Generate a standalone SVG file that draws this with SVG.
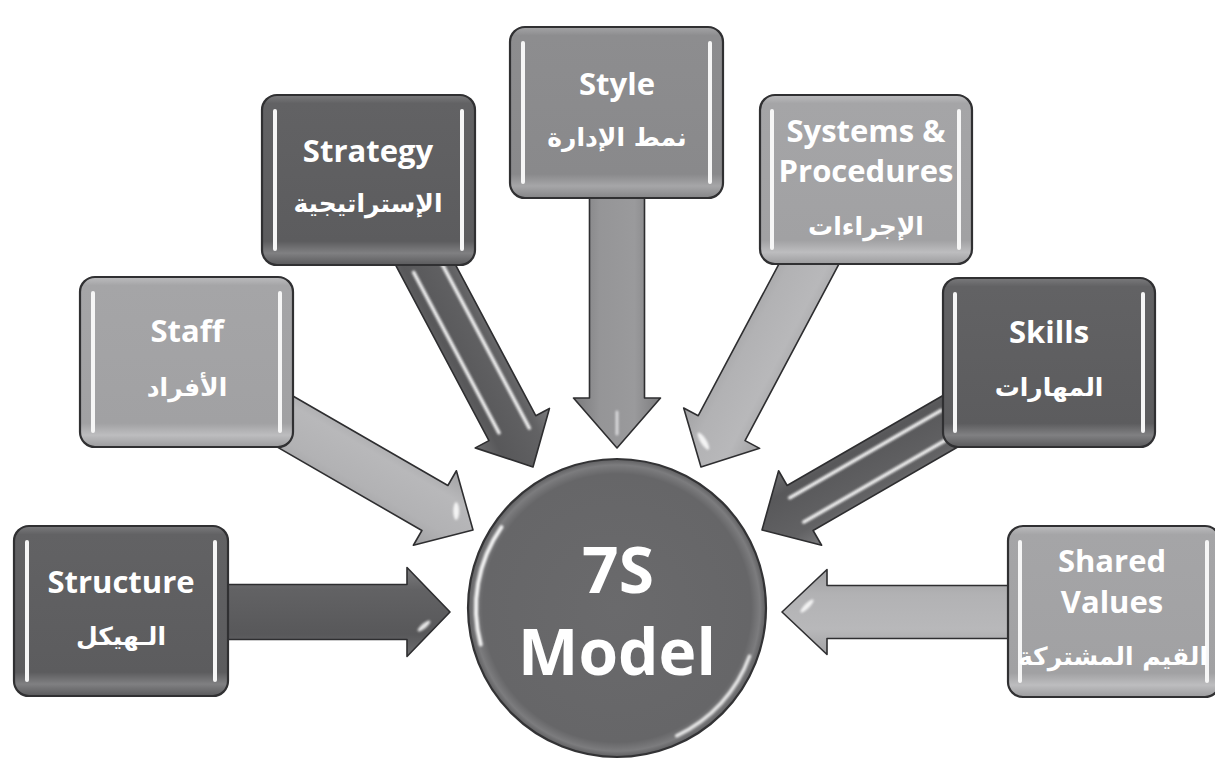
<svg xmlns="http://www.w3.org/2000/svg" width="1215" height="765" viewBox="0 0 1215 765">
  <defs>
    <style>
      .box { stroke: #303032; stroke-width: 2.2; }
      .dark { fill: url(#gDark); }
      .mid { fill: url(#gMid); }
      .light { fill: url(#gLight); }
      .bar { stroke: #f6f6f6; stroke-width: 4; stroke-linecap: round; }
      .lbl { font-family: "Open Sans", "DejaVu Sans", sans-serif; font-weight: bold; fill: #ffffff; text-anchor: middle; }
      .en { font-size: 31px; }
      .ar { font-family: "DejaVu Sans", "Noto Sans", sans-serif; font-weight: bold; font-size: 25px; fill: #ffffff; text-anchor: middle; }
      .arrow { stroke: #2e2e30; stroke-width: 1.6; stroke-linejoin: round; }
      .aDark { fill: url(#gArrowDark); }
      .aMid { fill: url(#gArrowMid); }
      .aLight { fill: url(#gArrowLight); }
      .streak { stroke: #ffffff; stroke-width: 3.5; stroke-linecap: round; opacity: 0.92; }
      .glint { fill: #ffffff; opacity: 0.85; }
    </style>
    <!-- box fills: flat face with a lighter rim at the bottom -->
    <linearGradient id="gDark" x1="0" y1="0" x2="0" y2="1">
      <stop offset="0" stop-color="#7a7a7c"/>
      <stop offset="0.05" stop-color="#626264"/>
      <stop offset="0.86" stop-color="#5c5c5e"/>
      <stop offset="0.93" stop-color="#808082"/>
      <stop offset="1" stop-color="#5a5a5c"/>
    </linearGradient>
    <linearGradient id="gMid" x1="0" y1="0" x2="0" y2="1">
      <stop offset="0" stop-color="#a4a4a6"/>
      <stop offset="0.05" stop-color="#8d8d8f"/>
      <stop offset="0.86" stop-color="#89898b"/>
      <stop offset="0.93" stop-color="#a6a6a8"/>
      <stop offset="1" stop-color="#858587"/>
    </linearGradient>
    <linearGradient id="gLight" x1="0" y1="0" x2="0" y2="1">
      <stop offset="0" stop-color="#bcbcbe"/>
      <stop offset="0.05" stop-color="#a5a5a7"/>
      <stop offset="0.86" stop-color="#a1a1a3"/>
      <stop offset="0.93" stop-color="#bdbdbf"/>
      <stop offset="1" stop-color="#9c9c9e"/>
    </linearGradient>
    <!-- arrow fills, across the shaft width -->
    <linearGradient id="gArrowDark" x1="0" y1="0" x2="0" y2="1">
      <stop offset="0" stop-color="#7c7c7e"/>
      <stop offset="0.25" stop-color="#626264"/>
      <stop offset="0.75" stop-color="#58585a"/>
      <stop offset="1" stop-color="#6e6e70"/>
    </linearGradient>
    <linearGradient id="gArrowMid" x1="0" y1="0" x2="0" y2="1">
      <stop offset="0" stop-color="#7c7c7e"/>
      <stop offset="0.3" stop-color="#9a9a9c"/>
      <stop offset="0.7" stop-color="#959597"/>
      <stop offset="1" stop-color="#7a7a7c"/>
    </linearGradient>
    <linearGradient id="gArrowLight" x1="0" y1="0" x2="0" y2="1">
      <stop offset="0" stop-color="#a2a2a4"/>
      <stop offset="0.3" stop-color="#b8b8ba"/>
      <stop offset="0.7" stop-color="#b2b2b4"/>
      <stop offset="1" stop-color="#a0a0a2"/>
    </linearGradient>
    <radialGradient id="gCircle" cx="0.5" cy="0.5" r="0.5">
      <stop offset="0" stop-color="#6a6a6c"/>
      <stop offset="0.9" stop-color="#666668"/>
      <stop offset="0.96" stop-color="#7c7c7e"/>
      <stop offset="1" stop-color="#5e5e60"/>
    </radialGradient>
    <!-- user-space region so the blur also works on straight lines -->
    <filter id="soft" filterUnits="userSpaceOnUse" x="-1500" y="-1500" width="3000" height="3000">
      <feGaussianBlur stdDeviation="0.8"/>
    </filter>
  </defs>

  <rect width="1215" height="765" fill="#ffffff"/>

  <!-- connectors: block arrows drawn with the tip at the local origin, pointing along +x -->
  <g id="connectors">
    <!-- Structure -> centre -->
    <g transform="translate(450,612)">
      <polygon class="arrow aDark" points="-240,-27.5 -43,-27.5 -43,-44.5 0,0 -43,44.5 -43,27.5 -240,27.5"/>
      <ellipse class="glint" cx="-26" cy="14" rx="8" ry="2.5" transform="rotate(-40 -26 14)" filter="url(#soft)"/>
    </g>
    <!-- Staff -> centre -->
    <g transform="translate(473,530) rotate(30)">
      <polygon class="arrow aLight" points="-262,-26 -44,-26 -44,-43 0,0 -44,43 -44,26 -262,26"/>
      <ellipse class="glint" cx="-24" cy="-8" rx="9" ry="3" transform="rotate(60 -24 -8)" filter="url(#soft)"/>
    </g>
    <!-- Strategy -> centre -->
    <g transform="translate(533,467) rotate(62)">
      <polygon class="arrow aDark" points="-262,-26.5 -44,-26.5 -44,-42 0,0 -44,42 -44,26.5 -262,26.5"/>
      <line class="streak" x1="-228" y1="-15" x2="-36" y2="-15" filter="url(#soft)"/>
      <line class="streak" x1="-228" y1="14" x2="-46" y2="14" filter="url(#soft)"/>
    </g>
    <!-- Style -> centre -->
    <g transform="translate(617,448) rotate(90)">
      <polygon class="arrow aMid" points="-270,-27.5 -50,-27.5 -50,-43.5 0,0 -50,43.5 -50,27.5 -270,27.5"/>
      <line x1="-36" y1="0" x2="-14" y2="0" stroke="#d8d8da" stroke-width="3" stroke-linecap="round" filter="url(#soft)"/>
    </g>
    <!-- Systems & Procedures -> centre -->
    <g transform="translate(701,467) rotate(118)">
      <polygon class="arrow aLight" points="-262,-26.5 -44,-26.5 -44,-43 0,0 -44,43 -44,26.5 -262,26.5"/>
      <ellipse class="glint" cx="-24" cy="10" rx="10" ry="3" transform="rotate(-60 -24 10)" filter="url(#soft)"/>
    </g>
    <!-- Skills -> centre -->
    <g transform="translate(762,530) rotate(150)">
      <polygon class="arrow aDark" points="-262,-26 -44,-26 -44,-43 0,0 -44,43 -44,26 -262,26"/>
      <line class="streak" x1="-215" y1="-14" x2="-40" y2="-14" filter="url(#soft)"/>
      <line class="streak" x1="-215" y1="14" x2="-40" y2="14" filter="url(#soft)"/>
    </g>
    <!-- Shared Values -> centre -->
    <g transform="translate(782,612) rotate(180)">
      <polygon class="arrow aLight" points="-240,-26.5 -45,-26.5 -45,-42.5 0,0 -45,42.5 -45,26.5 -240,26.5"/>
      <ellipse class="glint" cx="-25" cy="6" rx="9" ry="2.5" transform="rotate(-45 -25 6)" filter="url(#soft)"/>
    </g>
  </g>

  <!-- outer nodes -->
  <g id="structure">
    <rect class="box dark" x="14" y="526" width="214" height="170" rx="15"/>
    <line class="bar" x1="27" y1="542" x2="27" y2="680"/>
    <line class="bar" x1="215" y1="542" x2="215" y2="680"/>
    <text class="lbl en" x="121" y="593">Structure</text>
    <text class="ar" x="121" y="645">الـهيكل</text>
  </g>

  <g id="staff">
    <rect class="box light" x="80" y="277" width="213" height="170" rx="15"/>
    <line class="bar" x1="93" y1="293" x2="93" y2="431"/>
    <line class="bar" x1="280" y1="293" x2="280" y2="431"/>
    <text class="lbl en" x="187" y="342">Staff</text>
    <text class="ar" x="187" y="396">الأفراد</text>
  </g>

  <g id="strategy">
    <rect class="box dark" x="262" y="95" width="213" height="170" rx="15"/>
    <line class="bar" x1="275" y1="111" x2="275" y2="249"/>
    <line class="bar" x1="462" y1="111" x2="462" y2="249"/>
    <text class="lbl en" x="368" y="162">Strategy</text>
    <text class="ar" x="368" y="212">الإستراتيجية</text>
  </g>

  <g id="style">
    <rect class="box mid" x="510" y="27" width="213" height="171" rx="15"/>
    <line class="bar" x1="523" y1="43" x2="523" y2="182"/>
    <line class="bar" x1="710" y1="43" x2="710" y2="182"/>
    <text class="lbl en" x="617" y="95">Style</text>
    <text class="ar" x="617" y="146">نمط الإدارة</text>
  </g>

  <g id="systems">
    <rect class="box light" x="760" y="95" width="212" height="169" rx="15"/>
    <line class="bar" x1="772" y1="111" x2="772" y2="248"/>
    <line class="bar" x1="959" y1="111" x2="959" y2="248"/>
    <text class="lbl en" x="866" y="142">Systems &amp;</text>
    <text class="lbl en" x="866" y="182">Procedures</text>
    <text class="ar" x="866" y="235">الإجراءات</text>
  </g>

  <g id="skills">
    <rect class="box dark" x="943" y="278" width="212" height="169" rx="15"/>
    <line class="bar" x1="955" y1="294" x2="955" y2="431"/>
    <line class="bar" x1="1143" y1="294" x2="1143" y2="431"/>
    <text class="lbl en" x="1049" y="343">Skills</text>
    <text class="ar" x="1049" y="396">المهارات</text>
  </g>

  <g id="shared-values">
    <rect class="box light" x="1008" y="526" width="212" height="171" rx="15"/>
    <line class="bar" x1="1020" y1="542" x2="1020" y2="681"/>
    <line class="bar" x1="1207" y1="542" x2="1207" y2="681"/>
    <text class="lbl en" x="1112" y="572">Shared</text>
    <text class="lbl en" x="1112" y="613">Values</text>
    <text class="ar" x="1113" y="665" font-size="24">القيم المشتركة</text>
  </g>

  <!-- central node -->
  <g id="model">
    <circle cx="617" cy="608" r="149" fill="url(#gCircle)" stroke="#333335" stroke-width="2.2"/>
    <path d="M 501.5 527.1 A 141 141 0 0 0 480.8 644.5" fill="none" stroke="#f2f2f2" stroke-width="4" stroke-linecap="round" filter="url(#soft)"/>
    <path d="M 749.5 656.2 A 141 141 0 0 1 676.6 735.8" fill="none" stroke="#e6e6e6" stroke-width="3.5" stroke-linecap="round" filter="url(#soft)"/>
    <text class="lbl" x="618" y="593" font-size="64">7S</text>
    <text class="lbl" x="617" y="675" font-size="64">Model</text>
  </g>
</svg>
